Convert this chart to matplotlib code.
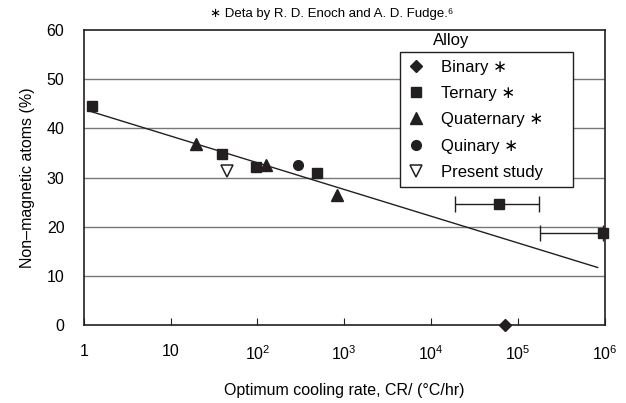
import matplotlib.pyplot as plt
from matplotlib.lines import Line2D

plt.rcParams['font.family'] = ['Liberation Sans', 'DejaVu Sans']
plt.rcParams['mathtext.fontset'] = 'custom'
plt.rcParams['mathtext.rm'] = 'Liberation Sans'

INK = "#231f20"
STAR = "\u2217"

# data
binary_x = [7.1e4]
binary_y = [0]
ternary_x = [1.25, 39, 97, 490]
ternary_y = [44.6, 34.8, 32.1, 31.0]
ternary_err_x = [6.0e4, 9.6e5]
ternary_err_y = [24.6, 18.8]
ternary_err_lo = [6.0e4 - 1.9e4, 9.6e5 - 1.78e5]
ternary_err_hi = [1.73e5 - 6.0e4, 0]
quaternary_x = [19.5, 125, 815]
quaternary_y = [36.8, 32.6, 26.4]
quinary_x = [295]
quinary_y = [32.5]
present_x = [44]
present_y = [31.3]
fit_x = [1.12, 8.3e5]
fit_y = [43.6, 11.7]

xticks = [1, 10, 1e2, 1e3, 1e4, 1e5, 1e6]
xtick_labels = ["1", "10", "$10^{2}$", "$10^{3}$", "$10^{4}$", "$10^{5}$", "$10^{6}$"]
yticks = [0, 10, 20, 30, 40, 50, 60]

fig = plt.figure(figsize=(6.26, 4.03), dpi=100)
ax = fig.add_axes([0.134, 0.1935, 0.832, 0.732])

for y in yticks[1:-1]:
    ax.axhline(y, color="#777777", lw=1.0, zorder=0)

ax.plot(fit_x, fit_y, color=INK, lw=1.0, zorder=2)

ax.errorbar(ternary_err_x, ternary_err_y, xerr=[ternary_err_lo, ternary_err_hi],
            fmt="s", color=INK, ms=7, elinewidth=1.0, capsize=6, capthick=1.0,
            zorder=3, clip_on=False)
ax.plot(ternary_x, ternary_y, "s", color=INK, ms=7, zorder=3, clip_on=False)
ax.plot(quaternary_x, quaternary_y, "^", color=INK, ms=8.5, zorder=3)
ax.plot(quinary_x, quinary_y, "o", color=INK, ms=7, zorder=3)
ax.plot(present_x, present_y, "v", mfc="white", mec=INK, mew=1.1, ms=8, zorder=3)
ax.plot(binary_x, binary_y, "D", color=INK, ms=6, zorder=4, clip_on=False)

ax.set_xscale("log")
ax.set_xlim(1, 1e6)
ax.set_ylim(0, 60)
ax.set_xticks(xticks)
ax.set_xticklabels(xtick_labels)
ax.minorticks_off()
ax.set_yticks(yticks)
ax.tick_params(axis="x", direction="in", length=5, pad=14, labelsize=11.5, color=INK)
ax.tick_params(axis="y", length=0, pad=14, labelsize=11.5)
for s in ax.spines.values():
    s.set_color(INK)
    s.set_linewidth(1.2)

ax.set_xlabel("Optimum cooling rate, CR/ (\u00b0C/hr)", fontsize=11.5, labelpad=14)
ax.set_ylabel("Non\u2013magnetic atoms (%)", fontsize=11.5, labelpad=8)

fig.text(0.53, 0.965, STAR + " Deta by R. D. Enoch and A. D. Fudge.\u2076",
         ha="center", va="center", fontsize=9.5)

handles = [
    Line2D([], [], ls="none", marker="D", color=INK, ms=6),
    Line2D([], [], ls="none", marker="s", color=INK, ms=7),
    Line2D([], [], ls="none", marker="^", color=INK, ms=8.5),
    Line2D([], [], ls="none", marker="o", color=INK, ms=7),
    Line2D([], [], ls="none", marker="v", mfc="white", mec=INK, mew=1.1, ms=8),
]
labels = ["Binary " + STAR, "Ternary " + STAR, "Quaternary " + STAR,
          "Quinary " + STAR, "Present study"]
leg = ax.legend(handles, labels, loc="upper left",
                bbox_to_anchor=(0.607, 0.925 - 0.45, 0.332, 0.45), mode="expand",
                fontsize=12, frameon=True, fancybox=False, edgecolor=INK,
                framealpha=1, labelspacing=0.68, handlelength=1.0,
                handletextpad=1.0, borderpad=0.45, borderaxespad=0)
leg.get_frame().set_linewidth(1.0)
ax.text(0.705, 0.965, "Alloy", transform=ax.transAxes, ha="center", va="center",
        fontsize=12)

fig.savefig("out.png", dpi=100)
